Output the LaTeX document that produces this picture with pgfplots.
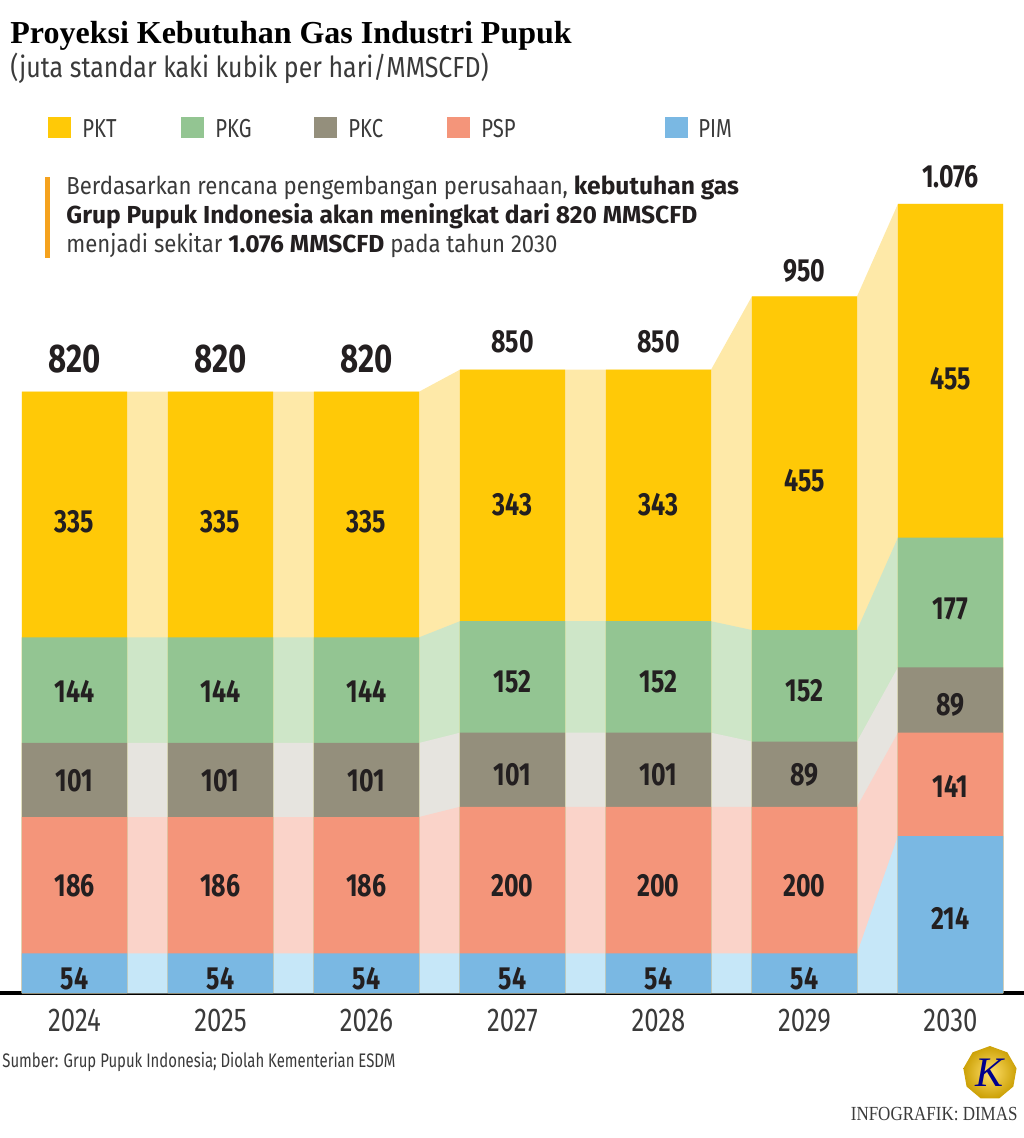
\documentclass[border=0pt]{standalone}
\usepackage{pgfplots}
\pgfplotsset{compat=1.18}
\usepackage{pgfplotstable}
\usepackage{fontspec}
\usepackage{graphicx}
\usetikzlibrary{shapes.geometric}
\setmainfont{Fira Sans}
\newfontfamily\cond{Fira Sans}[FakeStretch=0.78]
\newfontfamily\semi{Fira Sans}[FakeStretch=0.9]
\newfontfamily\subfont{Fira Sans}[FakeStretch=0.86]
\newfontfamily\srcfont{Fira Sans}[FakeStretch=0.76]
\newfontfamily\titlefont{Liberation Serif}

\definecolor{cPKT}{HTML}{FFC907}
\definecolor{lPKT}{HTML}{FEE9A8}
\definecolor{cPKG}{HTML}{93C592}
\definecolor{lPKG}{HTML}{CEE6C8}
\definecolor{cPKC}{HTML}{948F7C}
\definecolor{lPKC}{HTML}{E6E4DF}
\definecolor{cPSP}{HTML}{F4957A}
\definecolor{lPSP}{HTML}{FAD3C9}
\definecolor{cPIM}{HTML}{7AB8E3}
\definecolor{lPIM}{HTML}{C6E7F8}
\definecolor{txt}{HTML}{231F20}
\definecolor{gtxt}{HTML}{3A3A3A}
\definecolor{ora}{HTML}{F5A21E}

% cumulative stack tops, at the left and right edge of each bar
\pgfplotstableread{
x     c1  c2  c3  c4  c5
-0.36 54  240 341 485 820
0.36  54  240 341 485 820
0.64  54  240 341 485 820
1.36  54  240 341 485 820
1.64  54  240 341 485 820
2.36  54  240 341 485 820
2.64  54  254 355 507 850
3.36  54  254 355 507 850
3.64  54  254 355 507 850
4.36  54  254 355 507 850
4.64  54  254 343 495 950
5.36  54  254 343 495 950
5.64  214 355 444 621 1076
6.36  214 355 444 621 1076
}\bands

% segment labels (value, placed in the middle of each segment)
\pgfplotstableread{
x y lab
0 642.3 335
1 642.3 335
2 642.3 335
3 665.5 343
4 665.5 343
5 698.2 455
6 837.3 455
0 411.8 144
1 411.8 144
2 411.8 144
3 424.1 152
4 424.1 152
5 411.8 152
6 523.6 177
0 289.1 101
1 289.1 101
2 289.1 101
3 297.3 101
4 297.3 101
5 297.3 89
6 392.7 89
0 145.9 186
1 145.9 186
2 145.9 186
3 145.9 200
4 145.9 200
5 145.9 200
6 282.3 141
0 19.1 54
1 19.1 54
2 19.1 54
3 19.1 54
4 19.1 54
5 19.1 54
6 102.3 214
}\seglabels

\pgfplotstableread{
x y lab
0 846.8 820
1 846.8 820
2 846.8 820
}\bigtotals

\pgfplotstableread{
x y lab
3 874.1 850
4 874.1 850
5 970.9 950
6 1099.1 1.076
}\smalltotals

\newcommand\legfont{\cond\fontsize{13}{13}\selectfont}
\newcommand\hb[1]{{\normalfont\bfseries\color{txt}#1}}

\begin{document}
\begin{tikzpicture}
\begin{axis}[
  scale only axis,
  width=512pt, height=440pt,
  xmin=-0.5103, xmax=6.5034,
  ymin=0, ymax=1200,
  enlargelimits=false,
  clip=false,
  axis y line=none,
  axis x line=bottom,
  x axis line style={-, line width=1.6pt, black},
  xtick={0,...,6},
  xticklabels={2024,2025,2026,2027,2028,2029,2030},
  major tick length=0pt,
  xticklabel style={anchor=base, yshift=-19pt, text=gtxt,
    font=\cond\fontsize{16.5}{16.5}\selectfont},
]
% light connecting bands
\addplot[fill=lPKT, draw=none] table[x=x, y=c5] {\bands} \closedcycle;
\addplot[fill=lPKG, draw=none] table[x=x, y=c4] {\bands} \closedcycle;
\addplot[fill=lPKC, draw=none] table[x=x, y=c3] {\bands} \closedcycle;
\addplot[fill=lPSP, draw=none] table[x=x, y=c2] {\bands} \closedcycle;
\addplot[fill=lPIM, draw=none] table[x=x, y=c1] {\bands} \closedcycle;
% bars (cumulative tops, drawn from the top series down)
\addplot[ybar, bar width=0.72, bar shift=0pt, fill=cPKT, draw=none]
  coordinates {(0,820)(1,820)(2,820)(3,850)(4,850)(5,950)(6,1076)};
\addplot[ybar, bar width=0.72, bar shift=0pt, fill=cPKG, draw=none]
  coordinates {(0,485)(1,485)(2,485)(3,507)(4,507)(5,495)(6,621)};
\addplot[ybar, bar width=0.72, bar shift=0pt, fill=cPKC, draw=none]
  coordinates {(0,341)(1,341)(2,341)(3,355)(4,355)(5,343)(6,444)};
\addplot[ybar, bar width=0.72, bar shift=0pt, fill=cPSP, draw=none]
  coordinates {(0,240)(1,240)(2,240)(3,254)(4,254)(5,254)(6,355)};
\addplot[ybar, bar width=0.72, bar shift=0pt, fill=cPIM, draw=none]
  coordinates {(0,54)(1,54)(2,54)(3,54)(4,54)(5,54)(6,214)};
% segment labels
\addplot[draw=none, mark=none, nodes near coords, point meta=explicit symbolic,
  every node near coord/.append style={anchor=center, text=txt,
    font=\cond\bfseries\fontsize{16}{16}\selectfont}]
  table[x=x, y=y, meta=lab] {\seglabels};
% totals
\addplot[draw=none, mark=none, nodes near coords, point meta=explicit symbolic,
  every node near coord/.append style={anchor=base, inner sep=0pt, text=txt,
    font=\cond\bfseries\fontsize{20}{20}\selectfont}]
  table[x=x, y=y, meta=lab] {\bigtotals};
\addplot[draw=none, mark=none, nodes near coords, point meta=explicit symbolic,
  every node near coord/.append style={anchor=base, inner sep=0pt, text=txt,
    font=\cond\bfseries\fontsize{16}{16}\selectfont}]
  table[x=x, y=y, meta=lab] {\smalltotals};

% title and subtitle
\node[anchor=base west, inner sep=0pt, text=black] at (axis cs:-0.4418,1295.5)
  {\titlefont\bfseries\fontsize{16}{16}\selectfont Proyeksi Kebutuhan Gas Industri Pupuk};
\node[anchor=base west, inner sep=0pt, text=gtxt] at (axis cs:-0.4418,1249.1)
  {\subfont\fontsize{14.5}{14.5}\selectfont (juta standar kaki kubik per hari/MMSCFD)};

% legend
\node[fill=cPKT, minimum width=11.5pt, minimum height=10.5pt, inner sep=0pt] at (axis cs:-0.1027,1180.9) {};
\node[anchor=base west, inner sep=0pt, text=gtxt] at (axis cs:0.0514,1167.3) {\legfont PKT};
\node[fill=cPKG, minimum width=11.5pt, minimum height=10.5pt, inner sep=0pt] at (axis cs:0.8082,1180.9) {};
\node[anchor=base west, inner sep=0pt, text=gtxt] at (axis cs:0.9623,1167.3) {\legfont PKG};
\node[fill=cPKC, minimum width=11.5pt, minimum height=10.5pt, inner sep=0pt] at (axis cs:1.7192,1180.9) {};
\node[anchor=base west, inner sep=0pt, text=gtxt] at (axis cs:1.8733,1167.3) {\legfont PKC};
\node[fill=cPSP, minimum width=11.5pt, minimum height=10.5pt, inner sep=0pt] at (axis cs:2.6301,1180.9) {};
\node[anchor=base west, inner sep=0pt, text=gtxt] at (axis cs:2.7842,1167.3) {\legfont PSP};
\node[fill=cPIM, minimum width=11.5pt, minimum height=10.5pt, inner sep=0pt] at (axis cs:4.1267,1180.9) {};
\node[anchor=base west, inner sep=0pt, text=gtxt] at (axis cs:4.2705,1167.3) {\legfont PIM};

% annotation
\fill[ora] (axis cs:-0.2021,1002.3) rectangle (axis cs:-0.1678,1112.7);
\node[anchor=base west, inner sep=0pt, text=gtxt] at (axis cs:-0.0582,1089.5)
  {\semi\fontsize{12.3}{12.3}\selectfont Berdasarkan rencana pengembangan perusahaan, \hb{kebutuhan gas}};
\node[anchor=base west, inner sep=0pt, text=txt] at (axis cs:-0.0582,1050)
  {\fontsize{12.3}{12.3}\selectfont\hb{Grup Pupuk Indonesia akan meningkat dari 820 MMSCFD}};
\node[anchor=base west, inner sep=0pt, text=gtxt] at (axis cs:-0.0582,1010.5)
  {\semi\fontsize{12.3}{12.3}\selectfont menjadi sekitar \hb{1.076 MMSCFD} pada tahun 2030};

% footer
\node[anchor=base west, inner sep=0pt, text=gtxt] at (axis cs:-0.4966,-100.9)
  {\srcfont\fontsize{9.8}{9.8}\selectfont Sumber: Grup Pupuk Indonesia; Diolah Kementerian ESDM};
\node[anchor=base east, inner sep=0pt, text=gtxt] at (axis cs:6.4623,-174.5)
  {\scalebox{0.85}[1]{\titlefont\fontsize{10}{10}\selectfont INFOGRAFIK: DIMAS}};
\node[regular polygon, regular polygon sides=9, minimum size=27pt, inner sep=0pt,
  shading=radial, inner color=cPKT!60!white, outer color=cPKT!80!black]
  at (axis cs:6.2705,-109.1) {};
\node[text=blue!55!black] at (axis cs:6.2705,-109.1)
  {\titlefont\itshape\fontsize{21}{21}\selectfont K};

\coordinate (BL) at (axis cs:-0.5103,-197.7);
\coordinate (TR) at (axis cs:6.5034,1354.2);
\end{axis}
\pgfresetboundingbox
\path[use as bounding box] (BL) rectangle (TR);
\end{tikzpicture}
\end{document}
